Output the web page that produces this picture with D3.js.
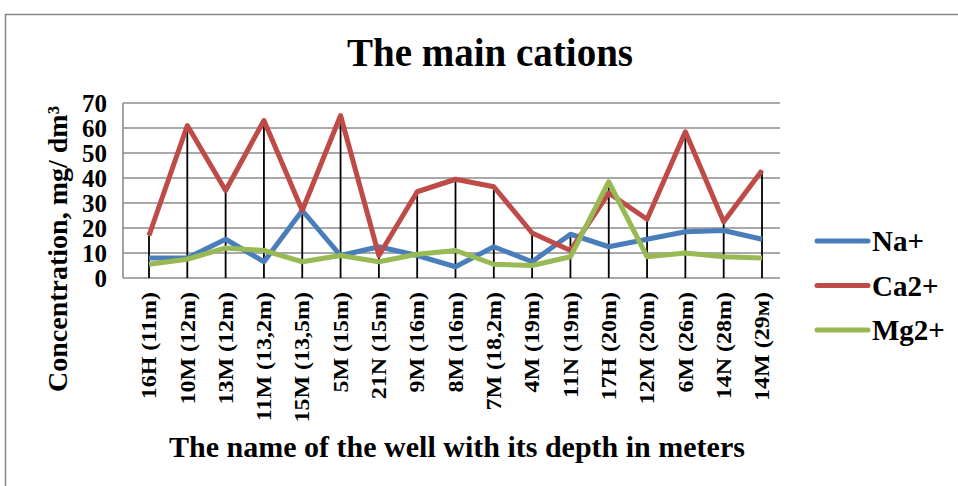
<!DOCTYPE html>
<html>
<head>
<meta charset="utf-8">
<script src="https://cdn.jsdelivr.net/npm/d3@7"></script>
<style>
  body { margin: 0; background: #fff; }
  text { font-family: "Liberation Serif", "Times New Roman", serif; font-weight: bold; fill: #000; }
</style>
</head>
<body>
<script>
// wells with their depth
var wells = ["16H (11m)", "10M (12m)", "13M (12m)", "11M (13,2m)", "15M (13,5m)", "5M (15m)",
  "21N (15m)", "9M (16m)", "8M (16m)", "7M (18,2m)", "4M (19m)", "11N (19m)", "17H (20m)",
  "12M (20m)", "6M (26m)", "14N (28m)", "14M (29м)"];

var na = [8, 8, 15.5, 6.5, 27, 9, 12.5, 9, 4.5, 12.5, 6.5, 17.5, 12.5, 15.5, 18.5, 19, 15.5];
var ca = [17, 61, 35, 63, 27, 65, 9, 34.5, 39.5, 36.5, 18, 11, 34, 23.5, 58.5, 22.5, 43];
var mg = [5.5, 7.5, 12, 11, 6.5, 9, 6.5, 9.5, 11, 5.5, 5, 8.5, 38.5, 8.5, 10, 8.5, 8];

var seriesNames = ["Na+", "Ca2+", "Mg2+"];
var seriesColors = ["#4a7ebb", "#be4b48", "#98b954"];
var yTicks = [0, 10, 20, 30, 40, 50, 60, 70];

var width = 958, height = 486;
var plot = {left: 123, right: 780, top: 103, bottom: 278};

var svg = d3.select("body").append("svg")
    .attr("width", width)
    .attr("height", height);

// outer chart frame (right and bottom edges are cut off)
svg.append("rect")
    .attr("x", 5.5).attr("y", 14.5)
    .attr("width", 1000).attr("height", 600)
    .attr("fill", "none")
    .attr("stroke", "#878787")
    .attr("stroke-width", 1.5);

var x = d3.scalePoint()
    .domain(wells)
    .range([149, 762]);

var y = d3.scaleLinear()
    .domain([0, 70])
    .range([plot.bottom, plot.top]);

// gridlines
svg.append("g")
    .selectAll("line")
    .data(yTicks)
    .enter().append("line")
    .attr("x1", plot.left).attr("x2", plot.right)
    .attr("y1", function(d) { return y(d); })
    .attr("y2", function(d) { return y(d); })
    .attr("stroke", "#8c8c8c")
    .attr("stroke-width", 1.6);

// y axis line
svg.append("line")
    .attr("x1", plot.left).attr("x2", plot.left)
    .attr("y1", plot.top).attr("y2", plot.bottom)
    .attr("stroke", "#8c8c8c")
    .attr("stroke-width", 1.6);

var yAxis = d3.axisLeft(y).tickValues(yTicks).tickSize(0).tickPadding(16);
svg.append("g")
    .attr("transform", "translate(" + plot.left + ",0)")
    .call(yAxis)
    .call(function(g) { g.select(".domain").remove(); })
    .selectAll("text")
    .style("font-family", "Liberation Serif, serif")
    .style("font-weight", "bold")
    .style("font-size", "25px")
    .attr("dy", "0.34em");

// drop lines from the highest point down to the axis
svg.append("g")
    .selectAll("line")
    .data(wells)
    .enter().append("line")
    .attr("x1", function(d) { return x(d); })
    .attr("x2", function(d) { return x(d); })
    .attr("y1", function(d, i) { return y(Math.max(na[i], ca[i], mg[i])); })
    .attr("y2", plot.bottom)
    .attr("stroke", "#000")
    .attr("stroke-width", 1.8);

// x labels, a bit narrower like the original
var xAxis = d3.axisBottom(x).tickSize(0).tickPadding(0);
svg.append("g")
    .attr("transform", "translate(0," + plot.bottom + ")")
    .call(xAxis)
    .call(function(g) { g.select(".domain").remove(); })
    .selectAll("text")
    .style("font-family", "Liberation Serif, serif")
    .style("font-weight", "bold")
    .style("font-size", "24px")
    .attr("text-anchor", "end")
    .attr("transform", "translate(0,14) scale(0.85,1) rotate(-90)")
    .attr("x", 0).attr("y", 0)
    .attr("dy", "0.33em");

var line = d3.line()
    .x(function(d, i) { return x(wells[i]); })
    .y(function(d) { return y(d); });

var allSeries = [na, ca, mg];
svg.append("g")
    .selectAll("path")
    .data(allSeries)
    .enter().append("path")
    .attr("d", line)
    .attr("fill", "none")
    .attr("stroke", function(d, i) { return seriesColors[i]; })
    .attr("stroke-width", 5)
    .attr("stroke-linejoin", "round");

// title
svg.append("text")
    .attr("x", 490).attr("y", 66)
    .attr("text-anchor", "middle")
    .style("font-size", "39px")
    .text("The main cations");

// y axis title
svg.append("text")
    .attr("transform", "translate(67,249) rotate(-90)")
    .attr("text-anchor", "middle")
    .style("font-size", "28px")
    .text("Concentration,  mg/ dm³");

// x axis title
svg.append("text")
    .attr("x", 457).attr("y", 457)
    .attr("text-anchor", "middle")
    .style("font-size", "30px")
    .text("The name of the well with its depth in meters");

// legend
var legend = svg.append("g")
    .selectAll("g")
    .data(seriesNames)
    .enter().append("g")
    .attr("transform", function(d, i) { return "translate(817," + (241 + i * 44.5) + ")"; });

legend.append("line")
    .attr("x1", 0).attr("x2", 51)
    .attr("stroke", function(d, i) { return seriesColors[i]; })
    .attr("stroke-width", 5)
    .attr("stroke-linecap", "round");

legend.append("text")
    .attr("x", 55)
    .attr("dy", "0.35em")
    .style("font-size", "29px")
    .text(function(d) { return d; });
</script>
</body>
</html>
